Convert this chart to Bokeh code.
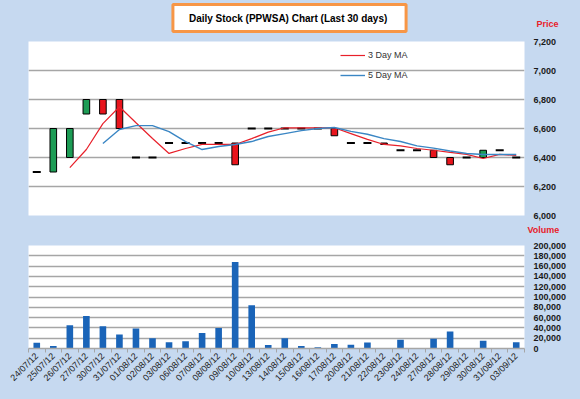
import math
from bokeh.plotting import figure
from bokeh.layouts import column
from bokeh.models import (Range1d, FixedTicker, NumeralTickFormatter, Label,
                          Legend, LegendItem)
from bokeh.embed import file_html
from bokeh.resources import INLINE

# ---------------- data ----------------
dates = ["24/07/12", "25/07/12", "26/07/12", "27/07/12", "30/07/12", "31/07/12",
         "01/08/12", "02/08/12", "03/08/12", "06/08/12", "07/08/12", "08/08/12",
         "09/08/12", "10/08/12", "13/08/12", "14/08/12", "15/08/12", "16/08/12",
         "17/08/12", "20/08/12", "21/08/12", "22/08/12", "23/08/12", "24/08/12",
         "27/08/12", "28/08/12", "29/08/12", "30/08/12", "31/08/12", "03/09/12"]
opens = [6300, 6300, 6400, 6700, 6800, 6800, 6400, 6400, 6500, 6500,
         6500, 6500, 6500, 6600, 6600, 6600, 6600, 6600, 6600, 6500,
         6500, 6500, 6450, 6450, 6450, 6400, 6400, 6400, 6450, 6400]
closes = [6300, 6600, 6600, 6800, 6700, 6600, 6400, 6400, 6500, 6500,
          6500, 6500, 6350, 6600, 6600, 6600, 6600, 6600, 6550, 6500,
          6500, 6490, 6450, 6450, 6400, 6350, 6400, 6450, 6450, 6400]
ma3 = [None, None, 6330, 6455, 6634, 6750, 6640, 6531, 6428, 6462,
       6490, 6490, 6490, 6530, 6575, 6605, 6605, 6605, 6605, 6565,
       6525, 6490, 6480, 6462, 6450, 6435, 6421, 6393, 6421, 6414]
ma5 = [None, None, None, None, 6497, 6593, 6620, 6620, 6579, 6510,
       6455, 6476, 6490, 6510, 6545, 6565, 6585, 6600, 6607, 6580,
       6560, 6530, 6510, 6480, 6465, 6445, 6428, 6421, 6421, 6421]
volumes = [11000, 5000, 45000, 63000, 43000, 27000, 39000, 20000, 12000, 14000,
           30000, 40000, 168000, 84000, 7000, 20000, 5000, 2500, 8500, 7500,
           11500, 0, 17000, 0, 19000, 33000, 0, 15000, 0, 12000]
price_ticks = [6000, 6200, 6400, 6600, 6800, 7000, 7200]
volume_ticks = [0, 20000, 40000, 60000, 80000, 100000, 120000, 140000,
                160000, 180000, 200000]
title_text = "Daily Stock (PPWSA)  Chart (Last 30 days)"
price_label = "Price"
volume_label = "Volume"

# ---------------- style ----------------
BG = "#c6d9f0"
GRID = "#a6a6a6"
FONT = "Liberation Sans"
GREEN = "#1d9c55"
RED = "#e8141c"
LABEL_RED = "#e8202a"

W = 580
LEFT, RIGHT = 28, 56
H_HEAD = 35
H1, TOP1, BOT1 = 186, 6, 6
H_MID = 18
H2, TOP2, BOT2 = 160, 6, 51

n = len(dates)
idx = list(range(n))
xr = Range1d(-0.5, n - 0.5)


def no_tick_axis(a, standoff):
    a.axis_line_color = None
    a.major_tick_out = 0
    a.major_tick_in = 0
    a.minor_tick_out = 0
    a.minor_tick_in = 0
    a.major_label_standoff = standoff
    a.major_label_text_font = FONT
    a.major_label_text_font_style = "bold"
    a.major_label_text_font_size = "9px"


def spacer(h, label, label_y, standoff):
    # a strip of the page: its frame spans the plot width in pixel units,
    # its right axis carries one red caption ("Price" / "Volume")
    f = figure(width=W, height=h, x_range=Range1d(LEFT, W - RIGHT),
               y_range=Range1d(h, 0),
               output_backend="svg", toolbar_location=None,
               x_axis_location=None, y_axis_location="right",
               min_border_left=LEFT, min_border_right=RIGHT,
               min_border_top=0, min_border_bottom=0,
               background_fill_color=BG, border_fill_color=BG,
               outline_line_color=None)
    f.xgrid.visible = False
    f.ygrid.visible = False
    a = f.yaxis[0]
    a.ticker = FixedTicker(ticks=[label_y])
    a.major_label_overrides = {label_y: label}
    no_tick_axis(a, standoff)
    a.major_label_text_color = LABEL_RED
    return f


def style_right_axis(a, ticks):
    a.ticker = FixedTicker(ticks=ticks)
    a.formatter = NumeralTickFormatter(format="0,0")
    no_tick_axis(a, 9)
    a.major_label_text_color = "#1a1a1a"


# ---------------- header (title + "Price") ----------------
head = spacer(H_HEAD, price_label, 23, 12)
head.add_layout(Label(x=289, y=17.5, text=title_text,
                      text_align="center", text_baseline="middle",
                      text_font=FONT, text_font_style="bold", text_font_size="10px",
                      text_color="black", background_fill_color="white",
                      border_line_color="#f79646", border_line_width=3,
                      padding=(16, 8)))

# ---------------- price figure ----------------
p1 = figure(width=W, height=H1, x_range=xr,
            y_range=Range1d(price_ticks[0], price_ticks[-1]),
            output_backend="svg", toolbar_location=None,
            x_axis_location=None, y_axis_location="right",
            min_border_left=LEFT, min_border_right=RIGHT,
            min_border_top=TOP1, min_border_bottom=BOT1,
            background_fill_color="white", border_fill_color=BG,
            outline_line_color=None)
p1.xgrid.visible = False
p1.ygrid.grid_line_color = GRID
p1.ygrid.grid_line_width = 1.5
style_right_axis(p1.yaxis[0], price_ticks)

up = [i for i in idx if closes[i] > opens[i]]
dn = [i for i in idx if closes[i] < opens[i]]
flat = [i for i in idx if closes[i] == opens[i]]

p1.vbar(x=up, top=[closes[i] for i in up], bottom=[opens[i] for i in up],
        width=0.4, fill_color=GREEN, line_color="black", line_width=1)
p1.vbar(x=dn, top=[opens[i] for i in dn], bottom=[closes[i] for i in dn],
        width=0.4, fill_color=RED, line_color="black", line_width=1)
p1.scatter(x=flat, y=[closes[i] for i in flat], marker="dash", size=8,
           line_color="black", line_width=2.2)

i3 = [i for i in idx if ma3[i] is not None]
i5 = [i for i in idx if ma5[i] is not None]
r3 = p1.line(x=i3, y=[ma3[i] for i in i3], line_color=LABEL_RED, line_width=1.2)
r5 = p1.line(x=i5, y=[ma5[i] for i in i5], line_color="#3a86c4", line_width=1.4)

legend = Legend(items=[LegendItem(label="3 Day MA", renderers=[r3]),
                       LegendItem(label="5 Day MA", renderers=[r5])],
                location=(312, 130), orientation="vertical",
                border_line_color=None, background_fill_alpha=0,
                padding=0, margin=0, spacing=0,
                label_height=20, glyph_height=20, glyph_width=25,
                label_standoff=3, label_text_font=FONT,
                label_text_font_size="9px", label_text_color="#333333")
p1.add_layout(legend)

# ---------------- middle ("Volume") ----------------
mid = spacer(H_MID, volume_label, 8, 3)

# ---------------- volume figure ----------------
p2 = figure(width=W, height=H2, x_range=xr,
            y_range=Range1d(volume_ticks[0], volume_ticks[-1]),
            output_backend="svg", toolbar_location=None,
            y_axis_location="right",
            min_border_left=LEFT, min_border_right=RIGHT,
            min_border_top=TOP2, min_border_bottom=BOT2,
            background_fill_color="white", border_fill_color=BG,
            outline_line_color=None)
p2.xgrid.visible = False
p2.ygrid.grid_line_color = GRID
p2.ygrid.grid_line_width = 1.5
style_right_axis(p2.yaxis[0], volume_ticks)

axx = p2.xaxis[0]
axx.ticker = FixedTicker(ticks=idx, minor_ticks=[i - 0.5 for i in range(n + 1)])
axx.major_label_overrides = {i: d for i, d in enumerate(dates)}
axx.major_label_orientation = math.pi / 4
axx.axis_line_color = GRID
axx.axis_line_width = 1.5
axx.major_tick_out = 0
axx.major_tick_in = 0
axx.minor_tick_out = 4
axx.minor_tick_in = 0
axx.minor_tick_line_color = GRID
axx.major_label_standoff = 2
axx.major_label_text_font = FONT
axx.major_label_text_font_size = "9px"
axx.major_label_text_color = "#222222"

p2.vbar(x=idx, top=volumes, width=0.4, fill_color="#1a64b8", line_color=None)

layout = column(head, p1, mid, p2, spacing=0, styles={"background-color": BG})
open("out.html", "w").write(file_html(layout, INLINE))
